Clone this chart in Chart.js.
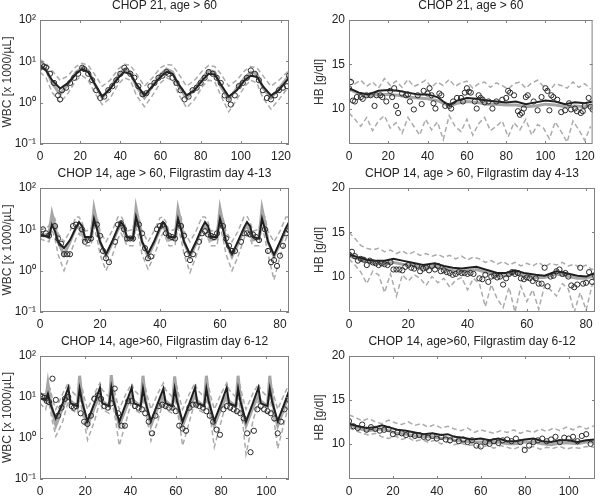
<!DOCTYPE html>
<html lang="en">
<head>
<meta charset="UTF-8">
<title>WBC and HB courses</title>
<script src="https://cdn.jsdelivr.net/npm/chart.js"></script>
<style>
  body { margin: 0; background: #fff; }
  .panel { position: absolute; }
</style>
</head>
<body>
<div class="panel" style="left:0;top:0"><canvas id="p1" width="300" height="165"></canvas></div>
<div class="panel" style="left:300px;top:0"><canvas id="p2" width="300" height="165"></canvas></div>
<div class="panel" style="left:0;top:168px"><canvas id="p3" width="300" height="165"></canvas></div>
<div class="panel" style="left:300px;top:168px"><canvas id="p4" width="300" height="165"></canvas></div>
<div class="panel" style="left:0;top:336px"><canvas id="p5" width="300" height="160"></canvas></div>
<div class="panel" style="left:300px;top:336px"><canvas id="p6" width="300" height="160"></canvas></div>

<script>
// tick labels
const wbcTicks = [0.1, 1, 10, 100];
const wbcTickLabels = ['10\u207B\u00B9', '10\u2070', '10\u00B9', '10\u00B2'];
const hbTicks = [10, 15, 20];
const xTicks21 = [0, 20, 40, 60, 80, 100, 120];
const xTicks14a = [0, 20, 40, 60, 80];
const xTicks14b = [0, 20, 40, 60, 80, 100];

// --- CHOP 21, WBC ---
const wbc21LineDays = [0,3,6,10,14,18,21,24,27,31,35,39,42,45,48,52,56,60,63,66,69,73,77,81,84,87,90,94,98,102,105,108,111,115,119,124];
const wbc21Black = [7.5,6,3.5,2.2,3,5,6.5,5.5,3,1.4,2.2,4,5.5,5,2.8,1.5,2.5,4.2,5.5,5,2.8,1.5,2,3.5,5,4.8,2.8,1.4,2,3.5,4.5,4.2,2.5,1.5,2,4];
const wbc21Gray = [8,6.5,3,1.6,2.8,5.5,7,6,3,1.3,2.3,4.5,6.5,5.5,2.5,1.3,2.5,4.8,6.5,5.5,2.5,1.3,2.2,4,6,5.5,2.5,1.2,2.2,4,5.5,5,2.3,1.3,2.2,4.5];
const wbc21Upper = [11,9,6,3.5,4.5,7.5,9,8,5,2.5,3.5,6.5,8.5,8,5,2.5,4,7,8.5,8,5,2.5,3.5,6,8,7.5,5,2.5,3.5,6,7.5,7,4.5,2.5,3.5,6];
const wbc21Lower = [5.5,4,1.8,1,1.7,3.5,4.5,3.5,1.8,0.9,1.3,2.8,4,3.5,1.5,0.8,1.5,3,4,3.5,1.6,0.75,1.2,2.5,3.5,3.2,1.5,0.6,1.2,2.5,3.5,3,1.3,0.7,1.2,2.5];
const wbc21ObsDays = [0,1,2,3,5,7,9,10,11,13,15,17,19,21,22,24,26,28,30,32,34,36,38,40,42,43,45,47,49,51,53,55,57,59,61,63,64,66,68,70,72,74,76,78,80,82,84,86,88,90,92,94,95,97,99,101,103,105,107,109,111,113,115,117,119,121,123,124];
const wbc21Obs = [7,8,7.5,7,5,3,1.5,1.2,2,2.3,3,4,5,7,6.5,5,3.5,2,1.3,1.4,2,2.5,3.5,5,7,6,5,4,2.5,1.6,1.7,2.5,3,4,4.5,5.5,5,4,3,2,1.2,1.4,2,2.3,3,4,5.5,5,4,3,1.5,1.2,0.9,1.5,2.5,3,4,6,5,3.5,2,1.3,1.2,1.5,2,2.3,2.5,4.5];

// --- CHOP 21, HB ---
const hb21LineDays = [0,5,10,15,20,25,30,35,40,45,48,51,55,60,65,70,75,80,85,90,95,100,105,110,115,120,124];
const hb21Black = [12.3,11.8,11.6,12,12.1,12,11.8,11.6,11.6,11.3,10.8,10.4,10.9,11.2,11.1,10.9,10.8,10.7,10.8,10.5,10.7,10.9,10.8,10.5,10.7,10.6,10.8];
const hb21Gray = [12.2,11.7,11.4,11.6,11.6,11.5,11.3,11.2,11.1,10.9,10.6,10.3,10.6,10.8,10.7,10.5,10.5,10.4,10.4,10.2,10.3,10.5,10.4,10.2,10.3,10.2,10.4];
const hb21BandDays = [0,3,6,9,12,15,18,21,24,27,30,33,36,39,42,45,48,51,54,57,60,63,66,69,72,75,78,81,84,87,90,93,96,99,102,105,108,111,114,117,120,123];
const hb21Upper = [13.5,12.8,13.2,12.5,13.0,12.3,13.4,12.6,13.1,12.4,13.3,12.5,12.8,13.2,12.4,13.0,12.6,13.3,12.5,12.9,13.1,12.3,12.8,13.0,12.4,12.9,12.6,12.2,12.8,13.0,12.3,12.9,13.2,12.5,12.0,12.8,12.6,12.3,13.0,12.4,12.8,12.2];
const hb21Lower = [9.5,8.8,8.0,9.0,7.5,8.6,9.2,7.8,8.4,7.2,9.0,8.0,7.0,8.8,7.6,8.5,6.5,9.2,8.0,7.4,8.8,7.0,8.3,9.0,7.5,8.0,8.6,6.8,8.4,7.6,8.8,7.0,8.2,7.8,6.6,8.5,7.4,6.2,8.6,7.6,6.4,8.0];
const hb21ObsDays = [0,1,2,3,4,6,7,9,11,13,14,16,17,19,21,22,23,24,25,27,29,30,31,33,35,37,38,40,41,42,43,44,46,47,49,51,52,53,55,57,58,59,60,61,62,64,65,66,67,68,69,71,73,75,78,80,81,82,84,86,87,88,89,90,91,94,96,98,100,101,102,103,104,106,108,110,112,113,115,116,118,119,120,122,123,124];
const hb21Obs = [12.3,13,10.9,10.8,11.3,11.3,11.1,11.5,11.5,10.3,11.5,11.5,11.3,10.8,12,11.3,12.3,10.3,9.5,11.7,11.5,11.6,10.8,9.9,11.5,10.5,12,11.7,12.3,11.5,10.6,10,11.7,11.5,10.3,10.3,10,10.8,11.2,11.2,10.8,11.8,12.3,11.9,11.8,10.8,10,11.5,11.2,11,10.7,10.8,10,10.8,11,11.2,12,11.8,11.5,9.7,9.3,9.5,10,11.3,11.5,10.8,9.8,11.3,12.3,12,9.8,11.5,11.3,11,9.6,9.8,10.6,9.9,10,9.7,9.5,9.7,10.3,11.2,10.2,9.9];

// --- CHOP 14, Filgrastim day 4-13, WBC ---
const wbc14aLineDays = [0,1,3,4,5,6,8,10,12,13,14, 15,17,18,19,20,22,24,26,27,28, 29,31,32,33,34,36,38,40,41,42, 43,45,46,47,48,50,52,54,55,56, 57,59,60,61,62,64,66,68,69,70, 71,73,74,75,76,78,80,82,83,83];
const wbc14aBlack = [7.5,7,6.5,13,9,5,3.5,5.5,11,15,12, 6.5,6.5,18,10,5,2.5,5,11,15,12, 6.5,6,20,11,5,2.6,5,11,15,12, 6.5,6.5,18,10,5,2.5,5,11,15,12, 6.5,6.5,18,10,5,2.5,5.2,11,15,12, 6.5,6,18,10,5,2.4,5,11,15,13];
const wbc14aGray = [8,7,8,24,12,5,2.4,5,11,11,8, 5.5,6,32,14,5,2.2,4.5,10,12,9, 5.5,6,33,14,5,2.2,4.5,10,12,9, 5.5,6,31,14,5,2.2,4.5,10,12,9, 5.5,6,32,14,5,2.2,4.5,10,12,9, 5.5,6,32,14,5,2.2,4.5,10,12,10];
const wbc14aUpper = [11,10,12,22,18,8,5,9,20,20,15, 9,10,25,20,9,5,9,20,21,15, 9,10,26,20,9,5,9,19,20,15, 9,10,25,20,9,5,9,20,20,15, 9,10,25,19,9,5,9,20,21,15, 9,10,25,20,9,5,9,20,20,16];
const wbc14aLower = [6,5.5,5,10,6,2.5,1,2.5,6,8,6, 4,4,12,6,2.5,1,2.2,6,8,6, 4,4,12,6,2.5,1.1,2.2,6,8,6, 4,4,11,6,2.5,0.9,2.2,6,8,6, 4,4,12,6,2.5,1,2.2,6,8,6, 4,4,12,6,2.5,0.6,2.2,6,8,7];
const wbc14aObsDays = [0,1,2,3,5,6,7,8,9,10,11,12,14,15,16,17,19,20,21,22,23,25,26,27,28,29,30,31,33,34,35,36,37,39,40,41,42,43,44,45,47,48,49,50,51,53,54,55,56,57,58,59,61,62,63,64,65,67,68,69,70,71,72,73,75,76,77,78,79,80,81,82,83,83.5];
const wbc14aObs = [7.5,10,8,7,12,6,4.5,2.5,2.5,2.5,12,13,10,5,5.5,6,13,7,3,2,1.6,5,13,14,10,6,6,6,13,8,3.5,2,2.2,10,12,13,8,7,6.5,6,12,7,2.5,1.8,2.5,5,8,9,7.5,7,6.5,8,12,6,4,3,3,5,8,8,7.5,7.5,6.5,5.5,10,3,1.6,1.8,1.3,2.3,4,8,9.5,5.5];

// --- CHOP 14, Filgrastim day 4-13, HB ---
const hb14aLineDays = [0,3,6,9,12,15,18,21,25,29,32,35,38,43,46,50,53,56,59,63,66,70,73,77,80,83];
const hb14aBlack = [12.5,12.2,11.9,11.8,11.8,12,11.8,11.6,11.3,11.5,11.2,11,10.9,11.1,10.8,10.4,10.4,10.7,10.4,10.2,10.1,10.6,10.4,10.1,10,10.4];
const hb14aGray = [12.3,12,11.7,11.5,11.5,11.6,11.4,11.3,11,11.2,10.9,10.7,10.6,10.8,10.5,10.1,10.1,10.4,10.1,9.9,9.9,10.3,10.1,9.8,9.8,10.1];
const hb14aBandDays = [0,2,4,6,8,10,12,14,16,18,20,22,24,26,28,30,32,34,36,38,40,42,44,46,48,50,52,54,56,58,60,62,64,66,68,70,72,74,76,78,80,82,83];
const hb14aUpper = [15,14.3,13.5,13.2,13,13.2,12.8,13,12.6,12.9,12.5,12.8,12.4,12.6,12.3,12.5,12.2,12.4,12,12.3,11.9,12.2,12,11.6,11.8,11.4,11.7,11.3,11.6,11.2,11.5,11.2,11.6,11.1,11.5,11.3,11.6,11.2,11.4,11,11.3,10.8,11];
const hb14aLower = [12,11.3,10.5,9.2,10.6,10.2,8.2,10.3,7.8,10.2,9.5,10.2,9.8,9,10,9.3,9.8,8.8,9.6,9.9,8.5,9.8,9.2,6.6,9.1,7.5,6.5,8.8,6.0,8.9,7.2,8.5,6.3,9,8.5,7.8,9.2,8.6,6,8.2,6.2,9.0,9.4];
const hb14aObsDays = [0,1,2,3,4,5,6,7,8,9,10,11,12,13,14,15,16,17,18,19,20,21,22,23,24,25,26,27,28,29,30,31,32,33,34,35,36,37,38,39,40,41,42,44,45,46,47,48,49,50,51,52,53,54,55,56,57,58,59,60,61,62,63,64,65,66,67,68,69,70,71,72,73,74,75,76,77,78,79,80,81,82,83,83.5];
const hb14aObs = [12.5,12.8,12.3,11.8,12,11.9,11.3,11.8,11.6,11.5,11.3,11.5,11.4,11.3,11.6,10.8,10.8,10.8,10.7,11.1,11.3,11,10.9,11.2,10.6,10.9,11,10.7,11.2,10.8,11.2,10.6,10.7,10.5,10.4,10.2,10.3,10.5,10.4,10.4,10.3,10.4,10.3,9.8,9.7,10.2,9.4,10,10.1,9.9,10,9.1,9.8,10.3,10.5,10.3,10.4,9.8,9.7,9.9,9.8,9.5,9.8,9.2,9.2,11,8.9,10,10.1,10.6,10.8,10.3,10.4,10,9,8.8,9.1,11,9.2,9.3,10.5,9.4,10,8.8];

// --- CHOP 14, Filgrastim day 6-12, WBC ---
const wbc14bLineDays = [0,2.5,3.5,4.5,5.5,7,10,12.5,13.5, 16.5,17.5,18.5,19.5,21,24,26.5,27.5, 30.5,31.5,32.5,33.5,35,38,40.5,41.5, 44.5,45.5,46.5,47.5,49,52,54.5,55.5, 58.5,59.5,60.5,61.5,63,66,68.5,69.5, 72.5,73.5,74.5,75.5,77,80,82.5,83.5, 86.5,87.5,88.5,89.5,91,94,96.5,97.5, 100.5,101.5,102.5,103.5,105,108,110];
const wbc14bBlack = [10,8.5,12,7,5,3,7,17,7, 6,16,8,5,2.6,7,17,7, 6,17,8,5,2.5,7,17,7, 6,16,8,5,2.6,7,16,7, 6,16,8,5,2.5,7,17,7, 6,16,8,5,2.6,7,17,7, 6,16,8,5,2.5,7,17,7, 6,16,8,5,2.6,7,14];
const wbc14bGray = [10,8,22,9,4.5,2,5.5,11,8, 6,33,10,4.5,2,5.5,11,8, 6,34,10,4.5,2,5.5,11,8, 6,33,10,4.5,2,5.5,11,8, 6,32,10,4.5,2,5.5,11,8, 6,33,10,4.5,2,5.5,11,8, 6,33,10,4.5,2,5.5,11,8, 6,33,10,4.5,2,5.5,13];
const wbc14bUpper = [12,12,20,16,9,5,12,22,15, 10,25,18,10,5,12,22,15, 10,26,18,10,5,12,21,15, 10,25,18,10,5,12,22,15, 10,24,18,10,5,12,22,15, 10,25,18,10,5,12,22,15, 10,25,18,10,5,12,21,15, 10,25,18,10,5,12,20];
const wbc14bLower = [7,5,9,5,2.5,1.1,2.5,8,5, 4,10,5,2.5,0.9,2.5,8,5, 4,10,5,2.5,0.65,2.5,8,5, 4,10,5,2.5,0.85,2.5,8,5, 4,10,5,2.5,0.65,2.5,8,5, 4,10,5,2.5,0.6,2.5,8,5, 4,10,5,2.5,0.4,2.5,8,5, 4,10,5,2.5,0.55,2.5,7];
const wbc14bObsDays = [0,1,2,3,4,5.5,7,8,9.5,11,12.5,14,15,16,18,19.5,21,22.5,24,25.5,27,28.5,30,31.5,33,34.5,36,37.5,39,40.5,42,43.5,45,46.5,48,49.5,51,52.5,54,55.5,57,58.5,60,61.5,63,64.5,66,67.5,69,70.5,72,73.5,75,76.5,78,79.5,81,82.5,84,85.5,87,88.5,90,91.5,93,94.5,96,97.5,99,100.5,102,103.5,105,106.5,108,110];
const wbc14bObs = [11,10,9.5,8,7.5,28,8.5,3.5,5.5,9,10,6,5.5,6,4,2.5,2.2,3.5,9,11,9,6,5.5,7,16,4,2,2,8,8,6,5.5,5,4,2.5,1.3,3.5,6,6.5,6,5.5,5.5,4.5,2,1.7,1.5,5.5,6.5,6.5,6,5.5,4.5,3.5,2.5,1.6,1.2,5,6,5.5,5,4.5,4,3,1.3,0.45,1.5,5,6,5,4.5,4,3,1.3,2.5,5,8.5];

// --- CHOP 14, Filgrastim day 6-12, HB ---
const hb14bLineDays = [0,4,8,12,15,18,22,26,30,34,38,42,45,48,52,56,60,64,68,72,76,80,84,88,92,96,100,104,108,112];
const hb14bBlack = [12.3,12,11.8,11.9,12.1,11.9,11.6,11.5,11.3,11.1,11.2,11,11.1,10.8,10.7,10.5,10.6,10.4,10.6,10.3,10.3,10.5,10.6,10.3,10.2,10.4,10.4,10.2,10.4,10.5];
const hb14bGray = [12.2,11.8,11.5,11.6,11.7,11.5,11.2,11.1,10.9,10.8,10.8,10.6,10.7,10.4,10.3,10.2,10.2,10.1,10.2,10,10,10.2,10.2,10,9.9,10.1,10.1,10,10.2,10.2];
const hb14bBandDays = [0,3,6,9,12,15,18,21,24,27,30,33,36,39,42,45,48,51,54,57,60,63,66,69,72,75,78,81,84,87,90,93,96,99,102,105,108,112];
const hb14bUpper = [13.3,13,12.6,12.9,12.5,12.3,12.7,12.4,12.2,12.5,12.1,12.3,11.9,12.2,11.8,12,11.7,11.5,11.8,11.3,11.6,11.4,11.2,11.5,11.3,11.6,11.2,11.5,11.3,11.7,11.4,11.8,11.5,11.9,11.6,12,11.7,12.1];
const hb14bLower = [11.8,11.5,11.2,11,11.2,10.8,10.6,10.9,10.5,10.7,10.3,10.5,10.2,10.4,10,10.2,9.9,10.1,9.8,9.9,9.6,9.8,9.5,9.8,9.6,9.4,9.7,9.5,9.7,9.4,9.6,9.5,9.7,9.4,9.6,9.5,9.7,9.6];
const hb14bObsDays = [0,2,4,6,8,10,12,14,16,18,20,22,24,26,28,30,32,34,36,38,40,42,44,46,48,50,52,54,56,58,60,62,64,66,68,70,72,74,76,78,80,82,84,86,88,90,92,94,96,98,100,102,104,106,108,110];
const hb14bObs = [12.6,12,11.8,12.2,11.6,11.9,11.7,11.5,11.6,11.7,11.1,11.3,11.2,11,11.1,10.9,11,10.8,10.7,10.9,10.6,10.8,10.5,10.4,10.6,10.3,10.5,10.2,10.4,9.8,9.7,10.2,10,10.3,10.1,10.4,10.5,10.3,10.6,10.2,9.3,9.8,10.2,10.4,10.6,10.3,10.5,10.8,10.2,10.7,10.6,10.8,10.3,10.9,11.1,10];

Chart.defaults.font.family = '"Liberation Sans", Arial, sans-serif';
Chart.defaults.color = '#222';

function pts(xs, ys) {
  return xs.map((x, i) => ({ x: x, y: ys[i] }));
}

// box round the plot with small inward ticks, like the original figure
const frame = {
  id: 'frame',
  afterDraw(chart) {
    const { ctx, chartArea: a, scales } = chart;
    ctx.save();
    ctx.strokeStyle = '#808080';
    ctx.lineWidth = 1;
    ctx.strokeRect(a.left + 0.5, a.top + 0.5, a.width - 1, a.height - 1);
    ctx.beginPath();
    scales.x.ticks.forEach(t => {
      const px = Math.round(scales.x.getPixelForValue(t.value)) + 0.5;
      ctx.moveTo(px, a.bottom); ctx.lineTo(px, a.bottom - 3);
      ctx.moveTo(px, a.top); ctx.lineTo(px, a.top + 3);
    });
    scales.y.ticks.forEach(t => {
      const py = Math.round(scales.y.getPixelForValue(t.value)) + 0.5;
      ctx.moveTo(a.left, py); ctx.lineTo(a.left + 3, py);
      ctx.moveTo(a.right, py); ctx.lineTo(a.right - 3, py);
    });
    ctx.stroke();
    ctx.restore();
  }
};

function lineSet(days, vals, color, width, dash) {
  return {
    data: pts(days, vals), showLine: true, pointRadius: 0,
    borderColor: color, borderWidth: width, borderDash: dash || []
  };
}

function panel(id, o) {
  const datasets = [
    { data: pts(o.obsDays, o.obs), showLine: false, pointRadius: 2.6,
      pointBorderColor: '#2a2a2a', pointBackgroundColor: 'rgba(255,255,255,0)', pointBorderWidth: 1 },
    lineSet(o.lineDays, o.black, '#1e1e1e', 2),
    lineSet(o.lineDays, o.gray, '#a6a6a6', 3),
    lineSet(o.bandDays, o.upper, '#ababab', 1.5, [5, 3]),
    lineSet(o.bandDays, o.lower, '#ababab', 1.5, [5, 3])
  ];
  const yScale = o.log
    ? { type: 'logarithmic', min: 0.1, max: 100, ticks: { callback: (v, i) => wbcTickLabels[i] },
        afterBuildTicks: s => { s.ticks = wbcTicks.map(v => ({ value: v })); } }
    : { type: 'linear', min: 6, max: 20, ticks: {},
        afterBuildTicks: s => { s.ticks = hbTicks.map(v => ({ value: v })); } };
  Object.assign(yScale, {
    grid: { display: false, drawTicks: false }, border: { display: false },
    title: { display: true, text: o.yTitle, font: { size: 12 }, color: '#333', padding: { top: 0, bottom: 2 } },
    afterFit: s => { s.width = o.yW; }
  });
  yScale.ticks.font = { size: 12 };
  yScale.ticks.padding = 4;

  new Chart(document.getElementById(id), {
    type: 'scatter',
    data: { datasets: datasets },
    options: {
      responsive: false,
      animation: false,
      layout: { padding: { left: o.padLeft, right: o.padRight, top: 0, bottom: 0 } },
      plugins: {
        legend: { display: false },
        tooltip: { enabled: false },
        title: { display: true, text: o.title, fullSize: false, color: '#222',
                 font: { size: 12, weight: 'normal', lineHeight: 1 }, padding: { top: 0, bottom: 8 } }
      },
      scales: {
        x: {
          type: 'linear', min: 0, max: o.xMax,
          grid: { display: false, drawTicks: false }, border: { display: false },
          ticks: { font: { size: 12 }, padding: 5, maxRotation: 0 },
          afterBuildTicks: s => { s.ticks = o.xTicks.map(v => ({ value: v })); },
          afterFit: s => { s.height = o.xH; }
        },
        y: yScale
      }
    },
    plugins: [frame]
  });
}

const left = { log: true, yTitle: 'WBC [x 1000/\u00B5L]', yW: 40, padLeft: 0, padRight: 11 };
const right = { log: false, yTitle: 'HB [g/dl]', yW: 37, padLeft: 12, padRight: 2 };

panel('p1', Object.assign({}, left, { title: 'CHOP 21, age > 60', xMax: 124, xTicks: xTicks21, xH: 21,
  lineDays: wbc21LineDays, black: wbc21Black, gray: wbc21Gray, bandDays: wbc21LineDays,
  upper: wbc21Upper, lower: wbc21Lower, obsDays: wbc21ObsDays, obs: wbc21Obs }));
panel('p2', Object.assign({}, right, { title: 'CHOP 21, age > 60', xMax: 124, xTicks: xTicks21, xH: 21,
  lineDays: hb21LineDays, black: hb21Black, gray: hb21Gray, bandDays: hb21BandDays,
  upper: hb21Upper, lower: hb21Lower, obsDays: hb21ObsDays, obs: hb21Obs }));
panel('p3', Object.assign({}, left, { title: 'CHOP 14, age > 60, Filgrastim day 4-13', xMax: 83, xTicks: xTicks14a, xH: 21,
  lineDays: wbc14aLineDays, black: wbc14aBlack, gray: wbc14aGray, bandDays: wbc14aLineDays,
  upper: wbc14aUpper, lower: wbc14aLower, obsDays: wbc14aObsDays, obs: wbc14aObs }));
panel('p4', Object.assign({}, right, { title: 'CHOP 14, age > 60, Filgrastim day 4-13', xMax: 83, xTicks: xTicks14a, xH: 21,
  lineDays: hb14aLineDays, black: hb14aBlack, gray: hb14aGray, bandDays: hb14aBandDays,
  upper: hb14aUpper, lower: hb14aLower, obsDays: hb14aObsDays, obs: hb14aObs }));
panel('p5', Object.assign({}, left, { title: 'CHOP 14, age>60, Filgrastim day 6-12', xMax: 110, xTicks: xTicks14b, xH: 17,
  lineDays: wbc14bLineDays, black: wbc14bBlack, gray: wbc14bGray, bandDays: wbc14bLineDays,
  upper: wbc14bUpper, lower: wbc14bLower, obsDays: wbc14bObsDays, obs: wbc14bObs }));
panel('p6', Object.assign({}, right, { title: 'CHOP 14, age>60, Filgrastim day 6-12', xMax: 112, xTicks: xTicks14b, xH: 17,
  lineDays: hb14bLineDays, black: hb14bBlack, gray: hb14bGray, bandDays: hb14bBandDays,
  upper: hb14bUpper, lower: hb14bLower, obsDays: hb14bObsDays, obs: hb14bObs }));
</script>
</body>
</html>
